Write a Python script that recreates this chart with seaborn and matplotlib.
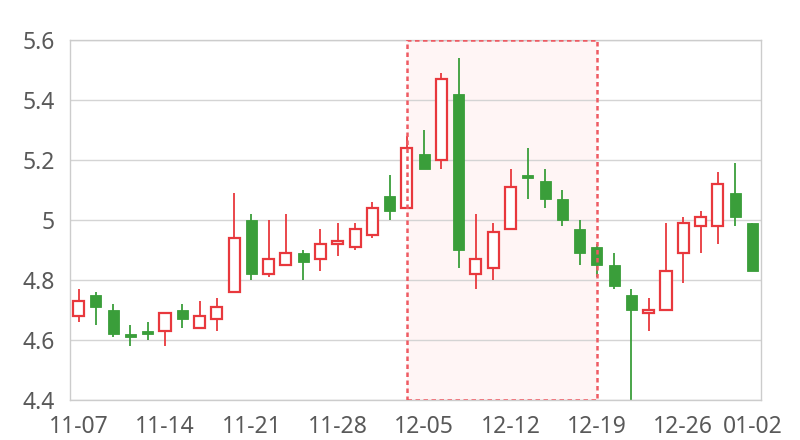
import matplotlib
matplotlib.use("Agg")
import matplotlib.pyplot as plt
import seaborn as sns
import numpy as np
from matplotlib.ticker import FuncFormatter

# trading days
dates = ["11-07", "11-08", "11-11", "11-12", "11-13", "11-14", "11-15", "11-18", "11-19", "11-20",
         "11-21", "11-22", "11-25", "11-26", "11-27", "11-28", "11-29", "12-02", "12-03", "12-04",
         "12-05", "12-06", "12-09", "12-10", "12-11", "12-12", "12-13", "12-16", "12-17", "12-18",
         "12-19", "12-20", "12-23", "12-24", "12-25", "12-26", "12-27", "12-30", "12-31", "01-02"]

opens = [4.68, 4.75, 4.70, 4.62, 4.63, 4.63, 4.70, 4.64, 4.67, 4.76,
         5.00, 4.82, 4.85, 4.89, 4.87, 4.92, 4.91, 4.95, 5.08, 5.04,
         5.22, 5.20, 5.42, 4.82, 4.84, 4.97, 5.15, 5.13, 5.07, 4.97,
         4.91, 4.85, 4.75, 4.69, 4.70, 4.89, 4.98, 4.98, 5.09, 4.99]
closes = [4.73, 4.71, 4.62, 4.61, 4.62, 4.69, 4.67, 4.68, 4.71, 4.94,
          4.82, 4.87, 4.89, 4.86, 4.92, 4.93, 4.97, 5.04, 5.03, 5.24,
          5.17, 5.47, 4.90, 4.87, 4.96, 5.11, 5.14, 5.07, 5.00, 4.89,
          4.85, 4.78, 4.70, 4.70, 4.83, 4.99, 5.01, 5.12, 5.01, 4.83]
highs = [4.77, 4.76, 4.72, 4.65, 4.66, 4.69, 4.72, 4.73, 4.74, 5.09,
         5.02, 5.00, 5.02, 4.90, 4.97, 4.99, 4.99, 5.06, 5.15, 5.28,
         5.30, 5.49, 5.54, 5.02, 4.99, 5.17, 5.24, 5.17, 5.10, 5.00,
         4.92, 4.89, 4.77, 4.74, 4.99, 5.01, 5.03, 5.16, 5.19, 4.99]
lows = [4.66, 4.65, 4.61, 4.58, 4.60, 4.58, 4.64, 4.64, 4.63, 4.76,
        4.80, 4.81, 4.85, 4.80, 4.83, 4.88, 4.90, 4.94, 5.00, 5.04,
        5.17, 5.17, 4.84, 4.77, 4.80, 4.97, 5.07, 5.04, 4.98, 4.85,
        4.81, 4.77, 4.40, 4.63, 4.70, 4.79, 4.89, 4.92, 4.98, 4.83]

shown_labels = ["11-07", "11-14", "11-21", "11-28", "12-05", "12-12", "12-19", "12-26", "01-02"]
highlight = ("12-04", "12-19")

up_color = "#e8383d"
down_color = "#3a9e3a"

sns.set_theme(style="whitegrid")
plt.rcParams["font.family"] = ["Noto Sans", "DejaVu Sans"]

fig = plt.figure(figsize=(8, 4.4), dpi=100)
ax = fig.add_axes([70 / 800, 1 - 400 / 440, 691 / 800, 360 / 440])

x = np.arange(len(dates))
o = np.array(opens)
c = np.array(closes)
h = np.array(highs)
l = np.array(lows)
up = c >= o

# highlighted area
x0 = dates.index(highlight[0])
x1 = dates.index(highlight[1])
ax.axvspan(x0, x1, facecolor="#fff5f5", edgecolor="none", zorder=0.3)
ax.axvspan(x0, x1, facecolor="none", edgecolor="#ef5a62", linestyle=(0, (1.8, 1.4)),
           linewidth=1.8, zorder=4)

# wicks
ax.vlines(x[up], l[up], h[up], color=up_color, linewidth=1.3, zorder=2)
ax.vlines(x[~up], l[~up], h[~up], color=down_color, linewidth=1.3, zorder=2)

# bodies
w = 0.64
ax.bar(x[up], (c - o)[up], bottom=o[up], width=w, facecolor="white",
       edgecolor=up_color, linewidth=1.6, zorder=3)
ax.bar(x[~up], (o - c)[~up], bottom=c[~up], width=w, facecolor=down_color,
       edgecolor=down_color, linewidth=0.6, zorder=3)

ax.set_xlim(-0.5, len(dates) - 0.5)
ax.set_ylim(4.4, 5.6)
ax.set_yticks([4.4, 4.6, 4.8, 5.0, 5.2, 5.4, 5.6])
ax.yaxis.set_major_formatter(FuncFormatter(lambda v, p: f"{v:g}"))
ax.set_xticks([dates.index(d) for d in shown_labels])
ax.set_xticklabels(shown_labels)

ax.grid(axis="x", visible=False)
ax.grid(axis="y", color="#d4d4d4", linewidth=1)
for s in ax.spines.values():
    s.set_color("#cccccc")
    s.set_linewidth(1)
ax.tick_params(axis="both", length=0, labelsize=16.5, colors="#595959")
ax.tick_params(axis="y", pad=11)
ax.tick_params(axis="x", pad=11)

fig.savefig("out.png", dpi=100, facecolor="white")
